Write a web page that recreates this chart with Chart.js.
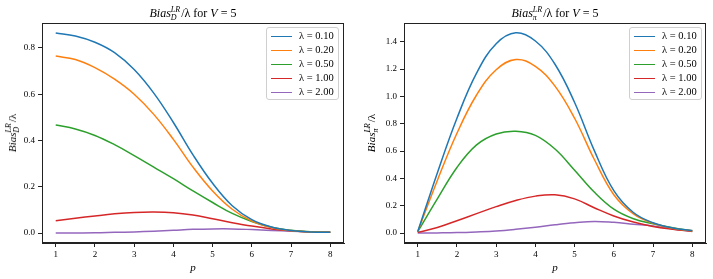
<!DOCTYPE html>
<html>
<head>
<meta charset="utf-8">
<script src="https://cdn.jsdelivr.net/npm/chart.js@4.4.0/dist/chart.umd.min.js"></script>
<style>
    body { margin: 0; background: #fff; }
    #wrap { position: relative; width: 713px; height: 279px; overflow: hidden; font-family: "Liberation Serif", serif; color: #000; }
    canvas { position: absolute; top: 0; }
    .title, .ylab { position: absolute; white-space: nowrap; }
    .title { font-size: 12px; transform: translate(-50%, -50%); }
    .ylab { font-size: 11px; transform: translate(-50%, -50%) rotate(-90deg); }
    .ss { display: inline-flex; flex-direction: column; vertical-align: middle; font-size: 8px; line-height: 8px; font-style: italic; margin-right: 1px; }
    .legend { position: absolute; width: 71px; height: 71px; border: 1px solid #cfcfcf; border-radius: 3px; background: rgba(255,255,255,0.8); }
    .legend .row { position: absolute; left: 0; height: 14px; font-size: 10.5px; line-height: 14px; }
    .legend .swatch { position: absolute; left: 4px; top: 6.5px; width: 21px; height: 1.5px; }
    .legend .txt { position: absolute; left: 32px; top: 0; white-space: nowrap; }
</style>
</head>
<body>
<div id="wrap">
    <canvas id="chartD" width="356" height="279" style="left:0"></canvas>
    <canvas id="chartPi" width="357" height="279" style="left:356px"></canvas>

    <div class="title" style="left:193px; top:14px"><i>Bias</i><span class="ss"><span>LR</span><span>D</span></span>/λ for <i>V</i> = 5</div>
    <div class="title" style="left:555px; top:14px"><i>Bias</i><span class="ss"><span>LR</span><span>π</span></span>/λ for <i>V</i> = 5</div>
    <div class="ylab" style="left:13px; top:133px"><i>Bias</i><span class="ss"><span>LR</span><span>D</span></span>/λ</div>
    <div class="ylab" style="left:372px; top:133px"><i>Bias</i><span class="ss"><span>LR</span><span>π</span></span>/λ</div>

    <div class="legend" id="legD" style="left:266px; top:27px"></div>
    <div class="legend" id="legPi" style="left:629px; top:27px"></div>
</div>

<script>
const pValues = [1, 1.5, 2, 2.5, 3, 3.5, 4, 4.5, 5, 5.5, 6, 6.5, 7, 7.5, 8];
const lambdaLabels = ['λ = 0.10', 'λ = 0.20', 'λ = 0.50', 'λ = 1.00', 'λ = 2.00'];
const colors = ['#1f77b4', '#ff7f0e', '#2ca02c', '#d62728', '#9467bd'];

const xTicks = [1, 2, 3, 4, 5, 6, 7, 8];
const yTicksD = [0.0, 0.2, 0.4, 0.6, 0.8];
const yTicksPi = [0.0, 0.2, 0.4, 0.6, 0.8, 1.0, 1.2, 1.4];

// Bias_D^LR / lambda
const biasD_010 = [0.865, 0.852, 0.825, 0.780, 0.707, 0.605, 0.478, 0.338, 0.215, 0.118, 0.058, 0.026, 0.011, 0.005, 0.003];
const biasD_020 = [0.765, 0.750, 0.715, 0.665, 0.600, 0.513, 0.405, 0.285, 0.182, 0.103, 0.052, 0.024, 0.010, 0.005, 0.003];
const biasD_050 = [0.467, 0.450, 0.422, 0.382, 0.335, 0.285, 0.235, 0.182, 0.132, 0.085, 0.050, 0.025, 0.012, 0.006, 0.003];
const biasD_100 = [0.053, 0.064, 0.074, 0.083, 0.089, 0.091, 0.088, 0.078, 0.062, 0.045, 0.030, 0.018, 0.010, 0.005, 0.003];
const biasD_200 = [0.000, 0.0005, 0.001, 0.003, 0.005, 0.008, 0.012, 0.016, 0.018, 0.018, 0.015, 0.011, 0.008, 0.005, 0.003];

// Bias_pi^LR / lambda
const biasPi_010 = [0.010, 0.440, 0.840, 1.170, 1.385, 1.465, 1.405, 1.235, 0.955, 0.605, 0.310, 0.150, 0.075, 0.037, 0.018];
const biasPi_020 = [0.010, 0.385, 0.730, 1.010, 1.195, 1.270, 1.220, 1.075, 0.840, 0.540, 0.280, 0.140, 0.072, 0.035, 0.017];
const biasPi_050 = [0.010, 0.250, 0.480, 0.645, 0.725, 0.745, 0.715, 0.615, 0.460, 0.300, 0.175, 0.105, 0.068, 0.038, 0.015];
const biasPi_100 = [0.005, 0.040, 0.090, 0.142, 0.193, 0.238, 0.270, 0.280, 0.250, 0.185, 0.125, 0.080, 0.048, 0.028, 0.013];
const biasPi_200 = [0.000, 0.001, 0.003, 0.008, 0.015, 0.027, 0.042, 0.060, 0.075, 0.085, 0.078, 0.065, 0.052, 0.030, 0.012];

const tickFont = { family: 'Liberation Serif', size: 9 };
const axisColor = '#222';

const framePlugin = {
    id: 'frame',
    afterDraw(chart) {
        const a = chart.chartArea;
        const ctx = chart.ctx;
        ctx.save();
        ctx.strokeStyle = axisColor;
        ctx.lineWidth = 1;
        ctx.strokeRect(Math.round(a.left) + 0.5, Math.round(a.top) + 0.5, Math.round(a.width) - 1, Math.round(a.height) - 1);
        ctx.restore();
    }
};

function createBiasChart(canvasId, series, yMin, yMax, yTicks, padLeft, padRight) {
    let ctx = document.getElementById(canvasId).getContext('2d');

    new Chart(ctx, {
        type: 'line',
        data: {
            datasets: series.map((values, i) => ({
                label: lambdaLabels[i],
                data: pValues.map((p, j) => ({ x: p, y: values[j] })),
                borderColor: colors[i],
                backgroundColor: colors[i],
                borderWidth: 1.5,
                pointRadius: 0,
                tension: 0.4,
                fill: false
            }))
        },
        options: {
            responsive: false,
            animation: false,
            events: [],
            layout: {
                padding: { left: padLeft, right: padRight, top: 23, bottom: 0 }
            },
            plugins: {
                legend: { display: false },
                tooltip: { enabled: false }
            },
            scales: {
                x: {
                    type: 'linear',
                    min: 0.65,
                    max: 8.35,
                    afterBuildTicks: scale => { scale.ticks = xTicks.map(v => ({ value: v })); },
                    afterFit: scale => { scale.height = 36; },
                    ticks: { font: tickFont, color: '#000', padding: 2, maxRotation: 0, callback: v => String(v) },
                    grid: { drawOnChartArea: false, tickLength: 4, color: axisColor },
                    border: { color: axisColor },
                    title: {
                        display: true,
                        text: 'p',
                        color: '#000',
                        font: { family: 'Liberation Serif', size: 11, style: 'italic' },
                        padding: { top: 6, bottom: 4 }
                    }
                },
                y: {
                    type: 'linear',
                    min: yMin,
                    max: yMax,
                    afterBuildTicks: scale => { scale.ticks = yTicks.map(v => ({ value: v })); },
                    afterFit: scale => { scale.width = 42; },
                    ticks: { font: tickFont, color: '#000', padding: 3, callback: v => v.toFixed(1) },
                    grid: { drawOnChartArea: false, tickLength: 4, color: axisColor },
                    border: { color: axisColor }
                }
            }
        },
        plugins: [framePlugin]
    });
}

function buildLegend(elementId) {
    const box = document.getElementById(elementId);
    lambdaLabels.forEach((label, i) => {
        const row = document.createElement('div');
        row.className = 'row';
        row.style.top = (1 + i * 14) + 'px';
        row.innerHTML = '<span class="swatch" style="background:' + colors[i] + '"></span><span class="txt">' + label + '</span>';
        box.appendChild(row);
    });
}

createBiasChart('chartD', [biasD_010, biasD_020, biasD_050, biasD_100, biasD_200], -0.043, 0.908, yTicksD, 0, 12);
createBiasChart('chartPi', [biasPi_010, biasPi_020, biasPi_050, biasPi_100, biasPi_200], -0.073, 1.537, yTicksPi, 6, 7);
buildLegend('legD');
buildLegend('legPi');
</script>
</body>
</html>
